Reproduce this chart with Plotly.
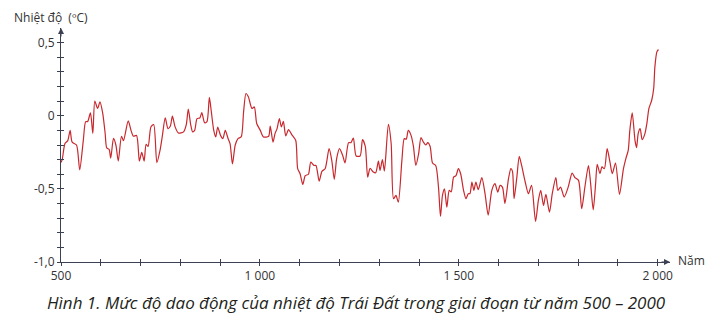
import plotly.graph_objects as go

years = [500, 503, 510, 517, 523, 528, 539, 547, 556, 562, 567, 574, 580, 585, 592, 598,
         605, 611, 615, 621, 625, 632, 638, 644, 652, 657, 669, 676, 682, 690, 697, 703,
         709, 714, 719, 726, 733, 741, 749, 755, 762, 769, 775, 780, 787, 795, 808, 815,
         820, 826, 831, 836, 842, 849, 854, 861, 867, 873, 878, 884, 889, 894, 901, 907,
         913, 920, 925, 931, 938, 945, 953, 959, 965, 971, 980, 986, 992, 1001, 1009, 1022,
         1026, 1033, 1038, 1043, 1049, 1054, 1059, 1065, 1072, 1080, 1090, 1095, 1101, 1108,
         1114, 1122, 1128, 1136, 1141, 1149, 1156, 1164, 1174, 1181, 1187, 1193, 1200, 1208,
         1214, 1223, 1229, 1235, 1242, 1252, 1258, 1265, 1271, 1277, 1285, 1291, 1298, 1302,
         1308, 1313, 1323, 1330, 1336, 1342, 1348, 1357, 1363, 1368, 1373, 1380, 1386, 1392,
         1399, 1405, 1411, 1417, 1422, 1428, 1434, 1442, 1449, 1454, 1459, 1464, 1470, 1476,
         1481, 1487, 1493, 1499, 1505, 1512, 1518, 1524, 1528, 1533, 1538, 1543, 1549, 1558,
         1566, 1574, 1583, 1591, 1598, 1604, 1610, 1616, 1625, 1631, 1635, 1639, 1646, 1652,
         1658, 1667, 1675, 1683, 1693, 1700, 1706, 1713, 1719, 1728, 1735, 1744, 1749, 1756,
         1765, 1775, 1785, 1792, 1801, 1809, 1817, 1826, 1831, 1838, 1844, 1848, 1855, 1860,
         1866, 1873, 1880, 1886, 1894, 1904, 1914, 1920, 1926, 1930, 1936, 1943, 1947, 1951,
         1956, 1961, 1968, 1973, 1978, 1985, 1990, 1993, 1998, 2002]

temps = [-0.32, -0.30, -0.19, -0.17, -0.10, -0.18, -0.20, -0.37, -0.17, -0.04, -0.04, 0.02,
         -0.12, 0.10, 0.05, 0.095, 0.015, -0.12, -0.22, -0.23, -0.29, -0.155, -0.20, -0.31,
         -0.14, -0.17, -0.035, -0.10, -0.14, -0.135, -0.31, -0.25, -0.31, -0.195, -0.21, -0.077,
         -0.06, -0.32, -0.236, -0.134, -0.015, -0.088, -0.07, -0.003, -0.077, -0.118, -0.11,
         -0.06, 0.045, -0.06, -0.11, -0.10, -0.02, -0.015, 0.022, -0.047, -0.04, 0.125, 0.026,
         -0.10, -0.145, -0.077, -0.134, -0.156, -0.10, -0.156, -0.19, -0.33, -0.20, -0.156,
         -0.145, 0.026, 0.152, 0.13, 0.05, 0.06, -0.053, -0.10, -0.145, -0.14, -0.07, -0.18,
         -0.122, -0.09, -0.02, -0.077, -0.038, -0.138, -0.095, -0.129, -0.168, -0.362, -0.396,
         -0.47, -0.41, -0.40, -0.316, -0.34, -0.34, -0.447, -0.38, -0.362, -0.225, -0.31,
         -0.435, -0.293, -0.225, -0.27, -0.323, -0.184, -0.184, -0.152, -0.275, -0.275, -0.163,
         -0.21, -0.42, -0.36, -0.385, -0.39, -0.31, -0.373, -0.30, -0.378, -0.058, -0.19,
         -0.567, -0.545, -0.59, -0.305, -0.156, -0.16, -0.10, -0.134, -0.21, -0.34, -0.26,
         -0.15, -0.18, -0.20, -0.184, -0.21, -0.323, -0.34, -0.488, -0.688, -0.545, -0.50,
         -0.625, -0.51, -0.52, -0.42, -0.41, -0.362, -0.40, -0.51, -0.567, -0.533, -0.533,
         -0.453, -0.51, -0.453, -0.505, -0.423, -0.533, -0.68, -0.51, -0.464, -0.522, -0.476,
         -0.49, -0.60, -0.43, -0.362, -0.38, -0.567, -0.42, -0.277, -0.34, -0.453, -0.533,
         -0.476, -0.723, -0.58, -0.51, -0.613, -0.538, -0.659, -0.533, -0.423, -0.51, -0.488,
         -0.556, -0.488, -0.392, -0.423, -0.442, -0.636, -0.488, -0.34, -0.45, -0.643, -0.464,
         -0.332, -0.396, -0.35, -0.362, -0.225, -0.316, -0.396, -0.323, -0.538, -0.362, -0.293,
         -0.236, -0.10, 0.02, -0.168, -0.218, -0.122, -0.088, -0.163, -0.122, -0.05, 0.05,
         0.106, 0.186, 0.334, 0.437, 0.453]

x_tickvals = [500, 600, 700, 800, 900, 1000, 1100, 1200, 1300, 1400, 1500, 1600, 1700, 1800, 1900, 2000]
x_ticktext = ["500", "", "", "", "", "1 000", "", "", "", "", "1 500", "", "", "", "", "2 000"]
y_tickvals = [-1.0, -0.9, -0.8, -0.7, -0.6, -0.5, -0.4, -0.3, -0.2, -0.1, 0.0, 0.1, 0.2, 0.3, 0.4, 0.5]
y_ticktext = ["-1,0", "", "", "", "", "-0,5", "", "", "", "", "0", "", "", "", "", "0,5"]

y_title = "Nhiệt độ  (ºC)"
x_title = "Năm"
caption = "Hình 1. Mức độ dao động của nhiệt độ Trái Đất trong giai đoạn từ năm 500 – 2000"

AX = "#3b4052"
TXT = "#333333"
FONT = "Open Sans"

fig = go.Figure()
fig.add_trace(go.Scatter(x=years, y=temps, mode="lines",
                         line=dict(color="#c8282d", width=1.2, shape="spline", smoothing=0.7),
                         hoverinfo="skip", showlegend=False))
# helper empty traces to activate overlay axes (crossing tick marks)
fig.add_trace(go.Scatter(x=[None], y=[None], xaxis="x2", yaxis="y", showlegend=False))
fig.add_trace(go.Scatter(x=[None], y=[None], xaxis="x", yaxis="y2", showlegend=False))

xr = [500, 2031]
yr = [-1.0, 0.6]

fig.update_layout(
    width=715, height=322,
    margin=dict(l=61, r=45, t=28, b=60),
    paper_bgcolor="white", plot_bgcolor="white",
    font=dict(family=FONT, size=12, color=TXT),
    xaxis=dict(range=xr, showgrid=False, zeroline=False, showline=True, linecolor=AX, linewidth=1,
               ticks="outside", ticklen=3, tickcolor=AX, tickwidth=1,
               tickmode="array", tickvals=x_tickvals, ticktext=x_ticktext,
               tickfont=dict(family=FONT, size=12, color=TXT)),
    xaxis2=dict(range=xr, overlaying="x", anchor="y", side="bottom", showgrid=False, zeroline=False,
                showline=False, ticks="inside", ticklen=3, tickcolor=AX, tickwidth=1,
                tickmode="array", tickvals=x_tickvals, showticklabels=False),
    yaxis=dict(range=yr, showgrid=False, zeroline=False, showline=True, linecolor=AX, linewidth=1,
               ticks="outside", ticklen=3, tickcolor=AX, tickwidth=1,
               tickmode="array", tickvals=y_tickvals, ticktext=y_ticktext,
               tickfont=dict(family=FONT, size=12, color=TXT)),
    yaxis2=dict(range=yr, overlaying="y", anchor="x", side="left", showgrid=False, zeroline=False,
                showline=False, ticks="inside", ticklen=3, tickcolor=AX, tickwidth=1,
                tickmode="array", tickvals=y_tickvals, showticklabels=False),
)

# axis arrows
fig.add_annotation(xref="paper", yref="paper", x=0, y=1, ax=0, ay=10, text="",
                   showarrow=True, arrowhead=2, arrowsize=1.2, arrowwidth=1, arrowcolor=AX)
fig.add_annotation(xref="paper", yref="paper", x=1, y=0, ax=-10, ay=0, text="",
                   showarrow=True, arrowhead=2, arrowsize=1.2, arrowwidth=1, arrowcolor=AX)

fig.add_annotation(xref="paper", yref="paper", x=-0.0805, y=1.047, xanchor="left", yanchor="middle",
                   text=y_title, showarrow=False, font=dict(family=FONT, size=12, color=TXT))
fig.add_annotation(xref="paper", yref="paper", x=1.01, y=0.005, xanchor="left", yanchor="middle",
                   text=x_title, showarrow=False, font=dict(family=FONT, size=12, color=TXT))
fig.add_annotation(xref="paper", yref="paper", x=0.486, y=-0.171, xanchor="center", yanchor="middle",
                   text="<i>" + caption + "</i>", showarrow=False,
                   font=dict(family=FONT, size=17, color="#231f20"))

fig.write_html("out.html")
